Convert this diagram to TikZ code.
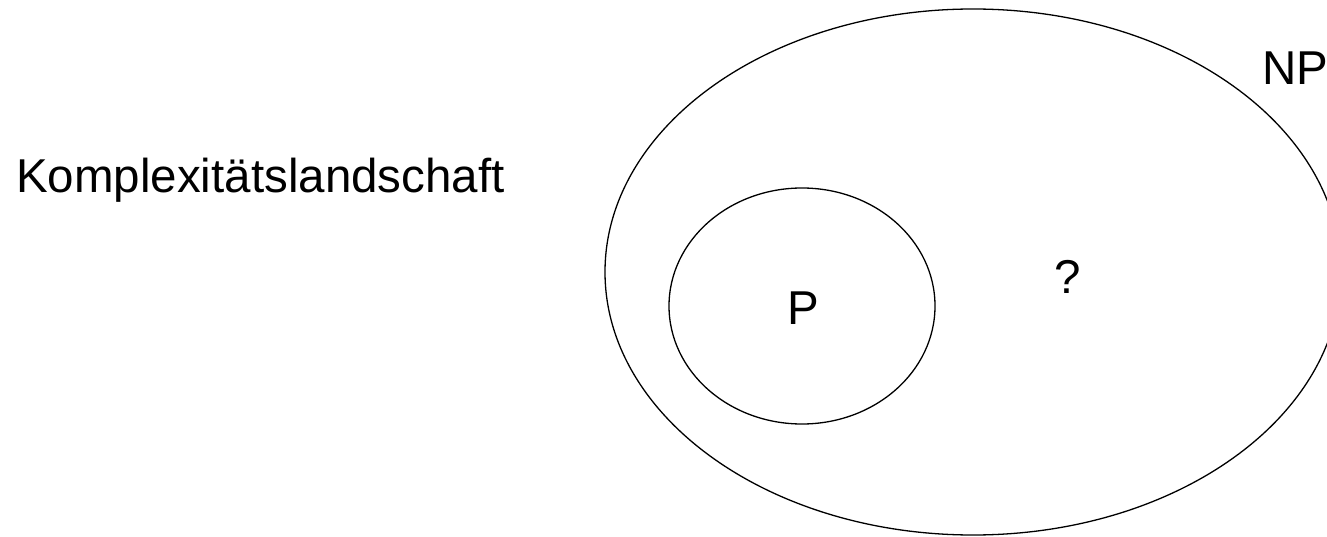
\documentclass[tikz,border=0pt]{standalone}
\usepackage{fontspec}
\setmainfont{Liberation Sans}
\usetikzlibrary{shapes.geometric}
\begin{document}
\begin{tikzpicture}[x=1pt,y=1pt,
  setshape/.style={draw=black, line width=1.3pt, ellipse, inner sep=0pt},
  lbl/.style={inner sep=0pt, font=\fontsize{47.5}{57}\selectfont}]
\useasboundingbox (0,0) rectangle (1327,-537);
\clip (0,0) rectangle (1327,-537);
\node[setshape, minimum width=736pt, minimum height=526pt] (np) at (973,-272) {};
\node[setshape, minimum width=266pt, minimum height=236pt] (p) at (802,-306) {};
\node[lbl, anchor=base west] (title) at (16,-193) {Komplexitätslandschaft};
\node[lbl, anchor=base] (plabel) at (803,-324) {P};
\node[lbl, anchor=base] (q) at (1068,-293) {?};
\node[lbl, anchor=base west] (nplabel) at (1262,-85) {NP};
\end{tikzpicture}
\end{document}
